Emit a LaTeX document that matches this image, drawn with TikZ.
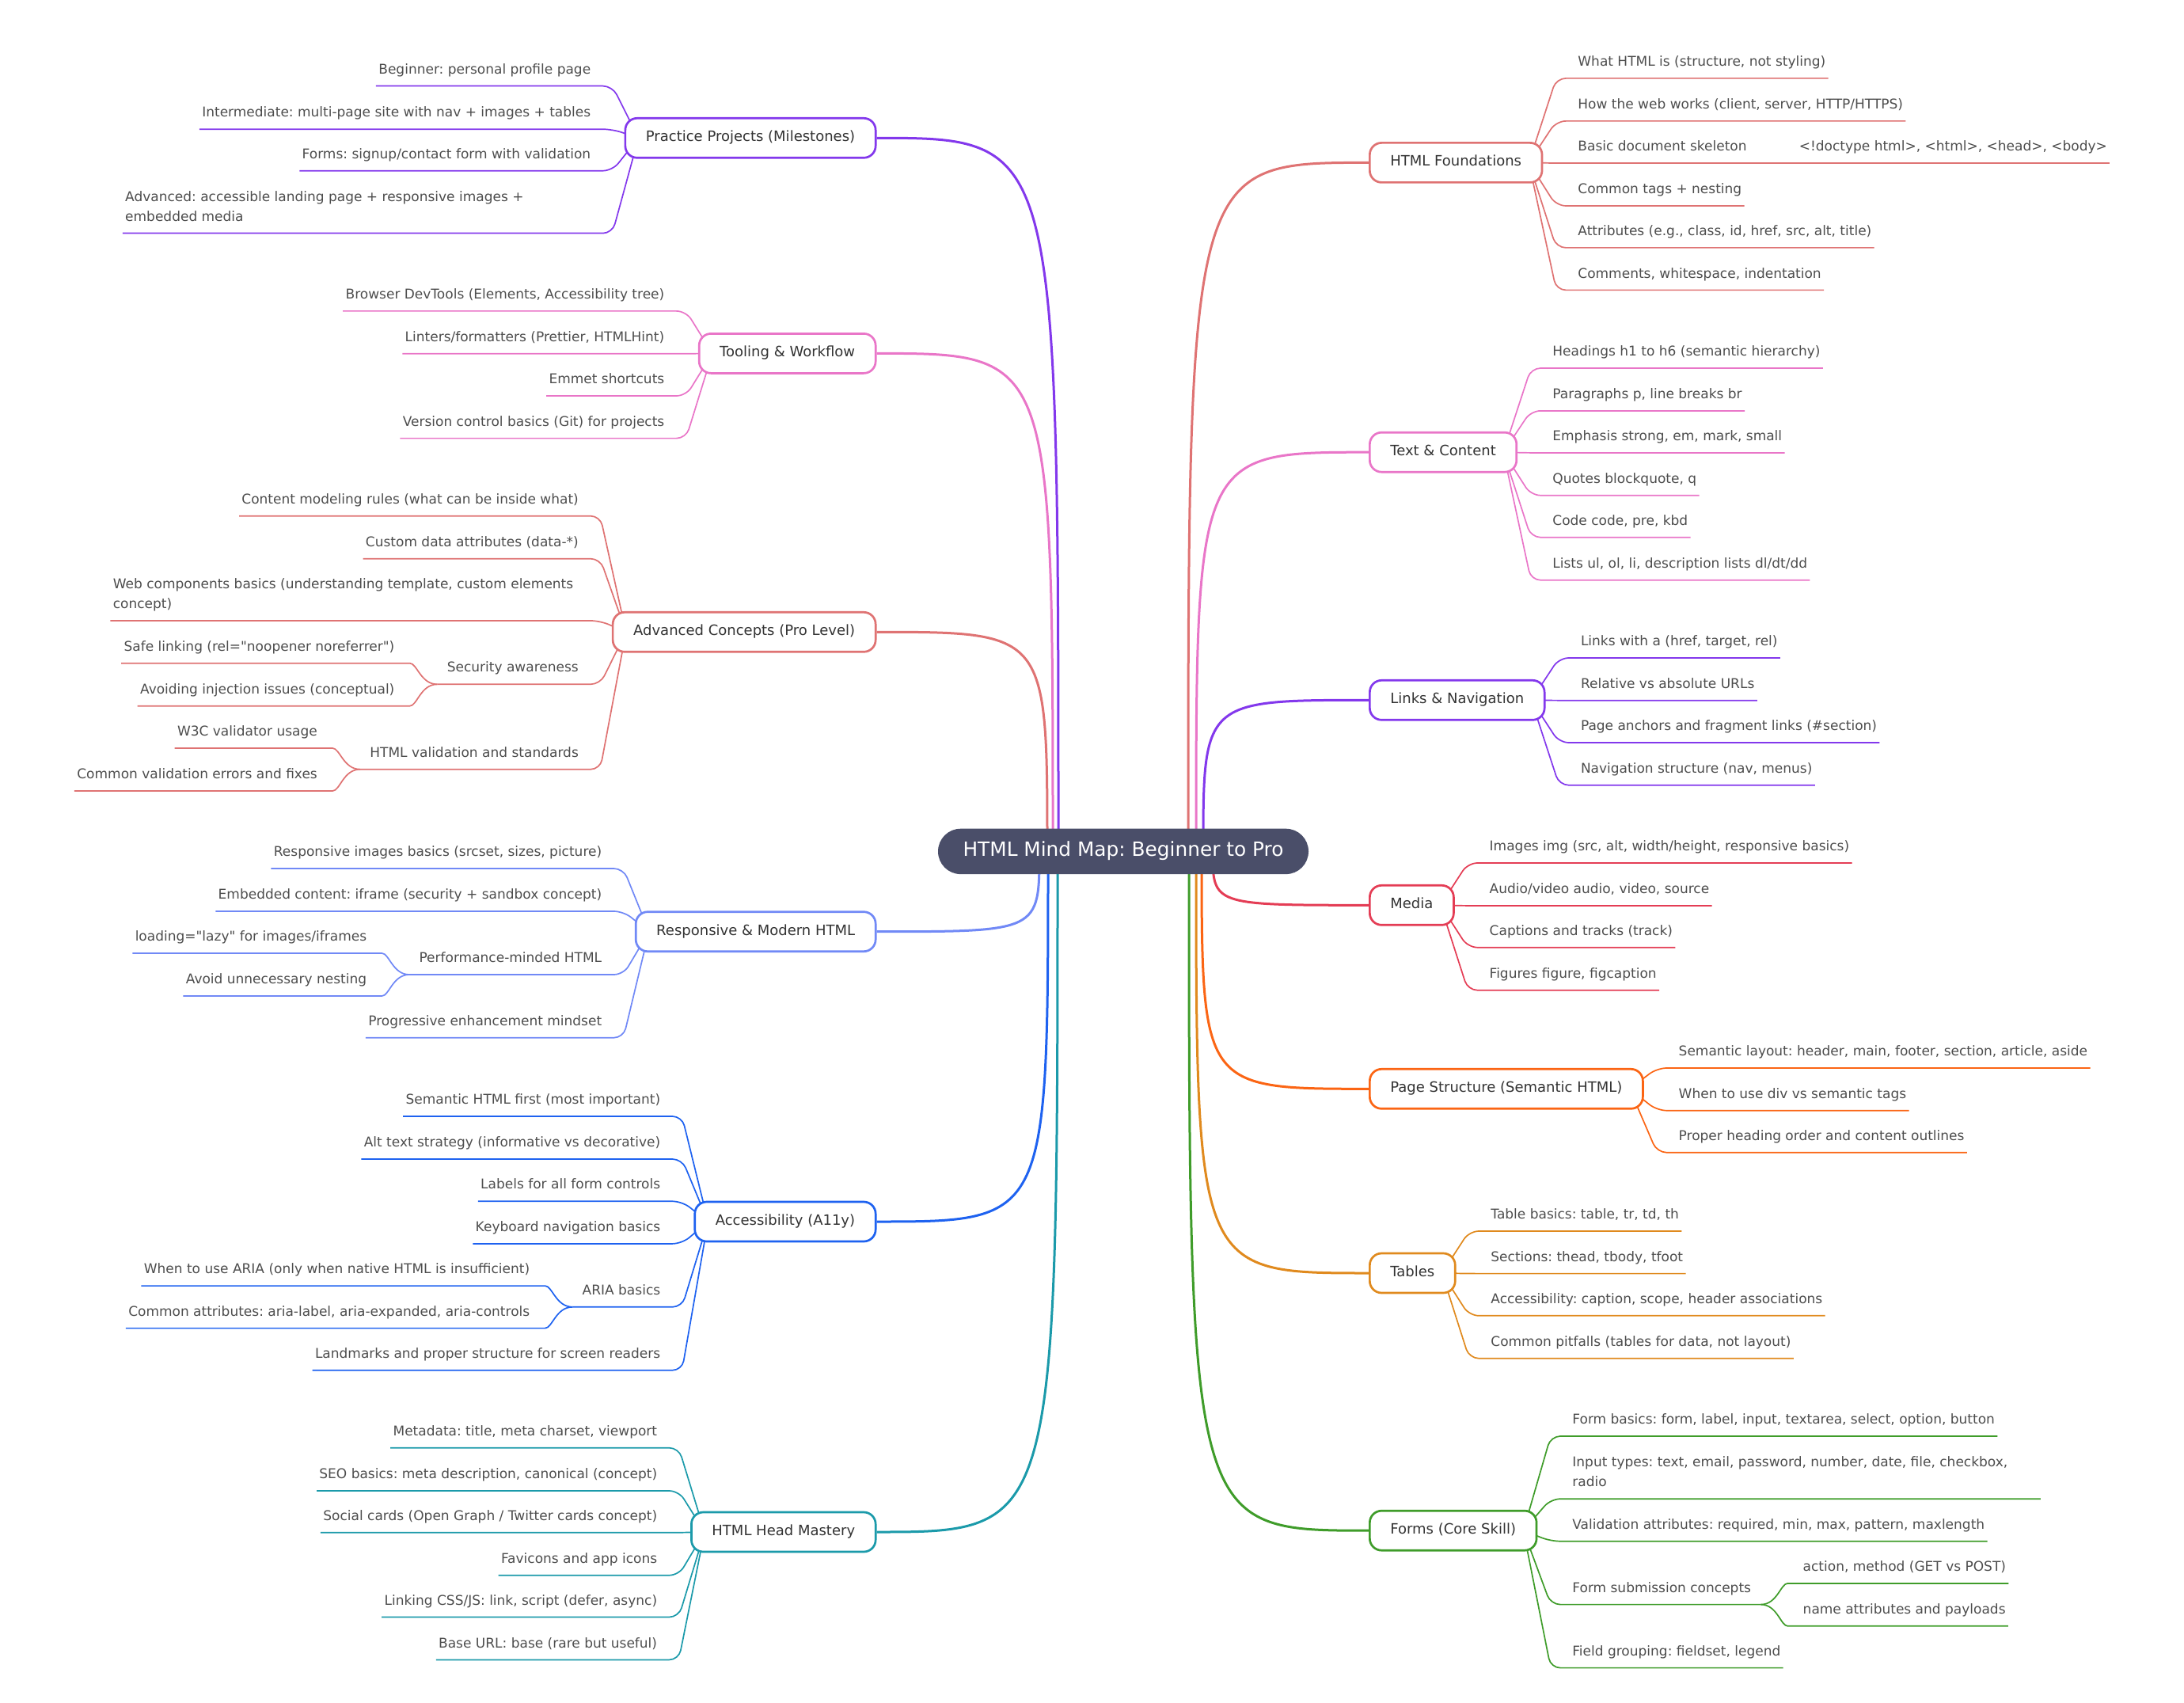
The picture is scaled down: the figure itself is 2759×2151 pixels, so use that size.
\documentclass[tikz,border=0pt]{standalone}
\usepackage{fontspec}
\setmainfont{DejaVu Sans}
\usetikzlibrary{calc}
\pgfdeclarelayer{bg}
\pgfsetlayers{bg,main}
\frenchspacing
\begin{document}
\begin{tikzpicture}[x=0.5pt,y=-0.5pt,
  root/.style={fill=rootfill,text=white,rounded corners=14.3pt,minimum width=234pt,minimum height=28.7pt,inner sep=0pt,text height=9.4pt,text depth=2.9pt,font=\fontsize{12.4}{15}\selectfont},
  br/.style={draw=#1,fill=white,line width=1.35pt,rounded corners=7.5pt,minimum height=25pt,inner xsep=13pt,inner ysep=0pt,text height=6.8pt,text depth=2.2pt,text=brtext,font=\fontsize{9}{11}\selectfont},
  leaf/.style={inner xsep=1.5pt,inner ysep=0pt,text depth=7.5pt,text=leaftext,font=\fontsize{8.5}{12.5}\selectfont},
  leafL/.style={leaf,anchor=south east},
  leafR/.style={leaf,anchor=south west},
  rl/.style={line width=1.5pt,#1},
  lk/.style={line width=0.85pt,rounded corners=6pt,#1}]
\definecolor{rootfill}{HTML}{4A4E69}
\definecolor{brtext}{HTML}{333333}
\definecolor{leaftext}{HTML}{4D4D4D}
\definecolor{cPP}{HTML}{8338EC}
\definecolor{cTW}{HTML}{E976C8}
\definecolor{cAC}{HTML}{DF7373}
\definecolor{cRM}{HTML}{7189F6}
\definecolor{cAY}{HTML}{1E62F0}
\definecolor{cHM}{HTML}{1B9AAA}
\definecolor{cMD}{HTML}{E43D55}
\definecolor{cPS}{HTML}{FB6514}
\definecolor{cTB}{HTML}{E08A1E}
\definecolor{cFM}{HTML}{3F9C2A}
\useasboundingbox (0,0) rectangle (2759,2151);
\node[root] (rt) at (1419,1075.4) {HTML Mind Map: Beginner to Pro};
\node[br=cPP,anchor=east] (pp) at (1107.5,174.3) {Practice Projects (Milestones)};
\node[br=cTW,anchor=east] (tw) at (1107.5,446.4) {Tooling \& Workflow};
\node[br=cAC,anchor=east] (ac) at (1107.5,798.3) {Advanced Concepts (Pro Level)};
\node[br=cRM,anchor=east] (rm) at (1107.5,1176.7) {Responsive \& Modern HTML};
\node[br=cAY,anchor=east] (ay) at (1107.5,1543) {Accessibility (A11y)};
\node[br=cHM,anchor=east] (hm) at (1107.5,1935) {HTML Head Mastery};
\node[br=cAC,anchor=west] (hf) at (1729,205.4) {HTML Foundations};
\node[br=cTW,anchor=west] (tc) at (1729,571.2) {Text \& Content};
\node[br=cPP,anchor=west] (ln) at (1729,884.3) {Links \& Navigation};
\node[br=cMD,anchor=west] (md) at (1729,1143.3) {Media};
\node[br=cPS,anchor=west] (ps) at (1729,1375.3) {Page Structure (Semantic HTML)};
\node[br=cTB,anchor=west] (tb) at (1729,1608) {Tables};
\node[br=cFM,anchor=west] (fm) at (1729,1933.2) {Forms (Core Skill)};
\coordinate (v-ac) at ([xshift=-48pt]rt.center);
\coordinate (v-tw) at ([xshift=-44.5pt]rt.center);
\coordinate (v-pp) at ([xshift=-41pt]rt.center);
\coordinate (v-rm) at ([xshift=-53pt]rt.center);
\coordinate (v-ay) at ([xshift=-47.5pt]rt.center);
\coordinate (v-hm) at ([xshift=-41.5pt]rt.center);
\coordinate (v-hf) at ([xshift=41pt]rt.center);
\coordinate (v-tc) at ([xshift=46pt]rt.center);
\coordinate (v-ln) at ([xshift=50.5pt]rt.center);
\coordinate (v-fm) at ([xshift=41.5pt]rt.center);
\coordinate (v-tb) at ([xshift=46pt]rt.center);
\coordinate (v-ps) at ([xshift=49.5pt]rt.center);
\coordinate (v-md) at ([xshift=56.5pt]rt.center);
\node[leafL] (pp1) at (749.6,108.6) {Beginner: personal profile page};
\node[leafL] (pp2) at (749.6,163.2) {Intermediate: multi-page site with nav + images + tables};
\node[leafL] (pp3) at (749.6,215.7) {Forms: signup/contact form with validation};
\node[leafL] (pp4) at (749.6,294.6) {\parbox[b]{294pt}{\raggedright Advanced: accessible landing page + responsive images +\\embedded media}};
\node[leafL] (tw1) at (842.7,392.9) {Browser DevTools (Elements, Accessibility tree)};
\node[leafL] (tw2) at (842.7,446.8) {Linters/formatters (Prettier, HTMLHint)};
\node[leafL] (tw3) at (842.7,500) {Emmet shortcuts};
\node[leafL] (tw4) at (842.7,553.6) {Version control basics (Git) for projects};
\node[leafL] (ac1) at (734.2,651.7) {Content modeling rules (what can be inside what)};
\node[leafL] (ac2) at (734.2,705.7) {Custom data attributes (data-*)};
\node[leafL] (ac3) at (734.2,784) {\parbox[b]{294pt}{\raggedright Web components basics (understanding template, custom elements\\concept)}};
\node[leafL] (ac4) at (734.2,864.3) {Security awareness};
\node[leafL] (ac4a) at (501.7,837.7) {Safe linking (rel=\textquotedbl noopener noreferrer\textquotedbl)};
\node[leafL] (ac4b) at (501.7,891.7) {Avoiding injection issues (conceptual)};
\node[leafL] (ac5) at (734.2,971.7) {HTML validation and standards};
\node[leafL] (ac5a) at (404.2,945) {W3C validator usage};
\node[leafL] (ac5b) at (404.2,999) {Common validation errors and fixes};
\node[leafL] (rm1) at (763.6,1097) {Responsive images basics (srcset, sizes, picture)};
\node[leafL] (rm2) at (763.6,1151) {Embedded content: iframe (security + sandbox concept)};
\node[leafL] (rm3) at (763.6,1231) {Performance-minded HTML};
\node[leafL] (rm3a) at (466.5,1204) {loading=\textquotedbl lazy\textquotedbl\ for images/iframes};
\node[leafL] (rm3b) at (466.5,1258) {Avoid unnecessary nesting};
\node[leafL] (rm4) at (763.6,1310.7) {Progressive enhancement mindset};
\node[leafL] (ay1) at (837.6,1410) {Semantic HTML first (most important)};
\node[leafL] (ay2) at (837.6,1464) {Alt text strategy (informative vs decorative)};
\node[leafL] (ay3) at (837.6,1517.3) {Labels for all form controls};
\node[leafL] (ay4) at (837.6,1570.9) {Keyboard navigation basics};
\node[leafL] (ay5) at (837.6,1650.8) {ARIA basics};
\node[leafL] (ay5a) at (672.6,1624.1) {When to use ARIA (only when native HTML is insufficient)};
\node[leafL] (ay5b) at (672.6,1677.6) {Common attributes: aria-label, aria-expanded, aria-controls};
\node[leafL] (ay6) at (837.6,1730.7) {Landmarks and proper structure for screen readers};
\node[leafL] (hm1) at (833.5,1828.7) {Metadata: title, meta charset, viewport};
\node[leafL] (hm2) at (833.5,1883) {SEO basics: meta description, canonical (concept)};
\node[leafL] (hm3) at (833.5,1935.8) {Social cards (Open Graph / Twitter cards concept)};
\node[leafL] (hm4) at (833.5,1989.7) {Favicons and app icons};
\node[leafL] (hm5) at (833.5,2042.5) {Linking CSS/JS: link, script (defer, async)};
\node[leafL] (hm6) at (833.5,2096.4) {Base URL: base (rare but useful)};
\node[leafR] (hf1) at (1990,98.9) {What HTML is (structure, not styling)};
\node[leafR] (hf2) at (1990,152.9) {How the web works (client, server, HTTP/HTTPS)};
\node[leafR] (hf3) at (1990,206.1) {Basic document skeleton};
\node[leafR] (hf3a) at (2269.4,206.1) {<!doctype html>, <html>, <head>, <body>};
\node[leafR] (hf4) at (1990,260) {Common tags + nesting};
\node[leafR] (hf5) at (1990,312.9) {Attributes (e.g., class, id, href, src, alt, title)};
\node[leafR] (hf6) at (1990,366.4) {Comments, whitespace, indentation};
\node[leafR] (tc1) at (1958,465) {Headings h1 to h6 (semantic hierarchy)};
\node[leafR] (tc2) at (1958,518.9) {Paragraphs p, line breaks br};
\node[leafR] (tc3) at (1958,572) {Emphasis strong, em, mark, small};
\node[leafR] (tc4) at (1958,625.7) {Quotes blockquote, q};
\node[leafR] (tc5) at (1958,678.7) {Code code, pre, kbd};
\node[leafR] (tc6) at (1958,732.7) {Lists ul, ol, li, description lists dl/dt/dd};
\node[leafR] (ln1) at (1993.6,831) {Links with a (href, target, rel)};
\node[leafR] (ln2) at (1993.6,884.7) {Relative vs absolute URLs};
\node[leafR] (ln3) at (1993.6,938) {Page anchors and fragment links (\#section)};
\node[leafR] (ln4) at (1993.6,991.7) {Navigation structure (nav, menus)};
\node[leafR] (md1) at (1878.3,1090) {Images img (src, alt, width/height, responsive basics)};
\node[leafR] (md2) at (1878.3,1144) {Audio/video audio, video, source};
\node[leafR] (md3) at (1878.3,1196.7) {Captions and tracks (track)};
\node[leafR] (md4) at (1878.3,1250.7) {Figures figure, figcaption};
\node[leafR] (ps1) at (2117.3,1349) {Semantic layout: header, main, footer, section, article, aside};
\node[leafR] (ps2) at (2117.3,1402.7) {When to use div vs semantic tags};
\node[leafR] (ps3) at (2117.3,1455.7) {Proper heading order and content outlines};
\node[leafR] (tb1) at (1880,1555) {Table basics: table, tr, td, th};
\node[leafR] (tb2) at (1880,1608.6) {Sections: thead, tbody, tfoot};
\node[leafR] (tb3) at (1880,1661.8) {Accessibility: caption, scope, header associations};
\node[leafR] (tb4) at (1880,1715.7) {Common pitfalls (tables for data, not layout)};
\node[leafR] (fm1) at (1983,1814) {Form basics: form, label, input, textarea, select, option, button};
\node[leafR] (fm2) at (1983,1893.2) {\parbox[b]{294pt}{\raggedright Input types: text, email, password, number, date, file, checkbox,\\radio}};
\node[leafR] (fm3) at (1983,1946.7) {Validation attributes: required, min, max, pattern, maxlength};
\node[leafR] (fm4) at (1983,2026.6) {Form submission concepts};
\node[leafR] (fm4a) at (2274.3,1999.9) {action, method (GET vs POST)};
\node[leafR] (fm4b) at (2274.3,2053.8) {name attributes and payloads};
\node[leafR] (fm5) at (1983,2106.6) {Field grouping: fieldset, legend};
\begin{pgfonlayer}{bg}
\draw[rl=cPP] (pp.east) .. controls (pp.east -| v-pp) .. (v-pp);
\draw[rl=cTW] (tw.east) .. controls (tw.east -| v-tw) .. (v-tw);
\draw[rl=cAC] (ac.east) .. controls (ac.east -| v-ac) .. (v-ac);
\draw[rl=cRM] (rm.east) .. controls (rm.east -| v-rm) .. (v-rm);
\draw[rl=cAY] (ay.east) .. controls (ay.east -| v-ay) .. (v-ay);
\draw[rl=cHM] (hm.east) .. controls (hm.east -| v-hm) .. (v-hm);
\draw[rl=cAC] (hf.west) .. controls (hf.west -| v-hf) .. (v-hf);
\draw[rl=cTW] (tc.west) .. controls (tc.west -| v-tc) .. (v-tc);
\draw[rl=cPP] (ln.west) .. controls (ln.west -| v-ln) .. (v-ln);
\draw[rl=cMD] (md.west) .. controls (md.west -| v-md) .. (v-md);
\draw[rl=cPS] (ps.west) .. controls (ps.west -| v-ps) .. (v-ps);
\draw[rl=cTB] (tb.west) .. controls (tb.west -| v-tb) .. (v-tb);
\draw[rl=cFM] (fm.west) .. controls (fm.west -| v-fm) .. (v-fm);
\draw[lk=cPP] ([xshift=9pt]pp.west) -- ([xshift=12pt]pp1.south east) -- (pp1.south west);
\draw[lk=cPP] ([xshift=9pt]pp.west) -- ([xshift=12pt]pp2.south east) -- (pp2.south west);
\draw[lk=cPP] ([xshift=9pt]pp.west) -- ([xshift=12pt]pp3.south east) -- (pp3.south west);
\draw[lk=cPP] ([xshift=9pt]pp.west) -- ([xshift=12pt]pp4.south east) -- (pp4.south west);
\draw[lk=cTW] ([xshift=9pt]tw.west) -- ([xshift=12pt]tw1.south east) -- (tw1.south west);
\draw[lk=cTW] ([xshift=9pt]tw.west) -- ([xshift=12pt]tw2.south east) -- (tw2.south west);
\draw[lk=cTW] ([xshift=9pt]tw.west) -- ([xshift=12pt]tw3.south east) -- (tw3.south west);
\draw[lk=cTW] ([xshift=9pt]tw.west) -- ([xshift=12pt]tw4.south east) -- (tw4.south west);
\draw[lk=cAC] ([xshift=9pt]ac.west) -- ([xshift=12pt]ac1.south east) -- (ac1.south west);
\draw[lk=cAC] ([xshift=9pt]ac.west) -- ([xshift=12pt]ac2.south east) -- (ac2.south west);
\draw[lk=cAC] ([xshift=9pt]ac.west) -- ([xshift=12pt]ac3.south east) -- (ac3.south west);
\draw[lk=cAC] ([xshift=9pt]ac.west) -- ([xshift=12pt]ac4.south east) -- ([xshift=-4.5pt]ac4.south west);
\draw[lk=cAC] ([xshift=-4.5pt]ac4.south west) to[out=180,in=0] ([xshift=2pt]ac4a.south east) -- (ac4a.south west);
\draw[lk=cAC] ([xshift=-4.5pt]ac4.south west) to[out=180,in=0] ([xshift=2pt]ac4b.south east) -- (ac4b.south west);
\draw[lk=cAC] ([xshift=9pt]ac.west) -- ([xshift=12pt]ac5.south east) -- ([xshift=-4.5pt]ac5.south west);
\draw[lk=cAC] ([xshift=-4.5pt]ac5.south west) to[out=180,in=0] ([xshift=2pt]ac5a.south east) -- (ac5a.south west);
\draw[lk=cAC] ([xshift=-4.5pt]ac5.south west) to[out=180,in=0] ([xshift=2pt]ac5b.south east) -- (ac5b.south west);
\draw[lk=cRM] ([xshift=9pt]rm.west) -- ([xshift=12pt]rm1.south east) -- (rm1.south west);
\draw[lk=cRM] ([xshift=9pt]rm.west) -- ([xshift=12pt]rm2.south east) -- (rm2.south west);
\draw[lk=cRM] ([xshift=9pt]rm.west) -- ([xshift=12pt]rm3.south east) -- ([xshift=-4.5pt]rm3.south west);
\draw[lk=cRM] ([xshift=-4.5pt]rm3.south west) to[out=180,in=0] ([xshift=2pt]rm3a.south east) -- (rm3a.south west);
\draw[lk=cRM] ([xshift=-4.5pt]rm3.south west) to[out=180,in=0] ([xshift=2pt]rm3b.south east) -- (rm3b.south west);
\draw[lk=cRM] ([xshift=9pt]rm.west) -- ([xshift=12pt]rm4.south east) -- (rm4.south west);
\draw[lk=cAY] ([xshift=9pt]ay.west) -- ([xshift=12pt]ay1.south east) -- (ay1.south west);
\draw[lk=cAY] ([xshift=9pt]ay.west) -- ([xshift=12pt]ay2.south east) -- (ay2.south west);
\draw[lk=cAY] ([xshift=9pt]ay.west) -- ([xshift=12pt]ay3.south east) -- (ay3.south west);
\draw[lk=cAY] ([xshift=9pt]ay.west) -- ([xshift=12pt]ay4.south east) -- (ay4.south west);
\draw[lk=cAY] ([xshift=9pt]ay.west) -- ([xshift=12pt]ay5.south east) -- ([xshift=-4.5pt]ay5.south west);
\draw[lk=cAY] ([xshift=-4.5pt]ay5.south west) to[out=180,in=0] ([xshift=2pt]ay5a.south east) -- (ay5a.south west);
\draw[lk=cAY] ([xshift=-4.5pt]ay5.south west) to[out=180,in=0] ([xshift=2pt]ay5b.south east) -- (ay5b.south west);
\draw[lk=cAY] ([xshift=9pt]ay.west) -- ([xshift=12pt]ay6.south east) -- (ay6.south west);
\draw[lk=cHM] ([xshift=9pt]hm.west) -- ([xshift=12pt]hm1.south east) -- (hm1.south west);
\draw[lk=cHM] ([xshift=9pt]hm.west) -- ([xshift=12pt]hm2.south east) -- (hm2.south west);
\draw[lk=cHM] ([xshift=9pt]hm.west) -- ([xshift=12pt]hm3.south east) -- (hm3.south west);
\draw[lk=cHM] ([xshift=9pt]hm.west) -- ([xshift=12pt]hm4.south east) -- (hm4.south west);
\draw[lk=cHM] ([xshift=9pt]hm.west) -- ([xshift=12pt]hm5.south east) -- (hm5.south west);
\draw[lk=cHM] ([xshift=9pt]hm.west) -- ([xshift=12pt]hm6.south east) -- (hm6.south west);
\draw[lk=cAC] ([xshift=-9pt]hf.east) -- ([xshift=-12pt]hf1.south west) -- (hf1.south east);
\draw[lk=cAC] ([xshift=-9pt]hf.east) -- ([xshift=-12pt]hf2.south west) -- (hf2.south east);
\draw[lk=cAC] ([xshift=-9pt]hf.east) -- ([xshift=-12pt]hf3.south west) -- ([xshift=4.5pt]hf3.south east);
\draw[lk=cAC] ([xshift=4.5pt]hf3.south east) to[out=0,in=180] ([xshift=-2pt]hf3a.south west) -- (hf3a.south east);
\draw[lk=cAC] ([xshift=-9pt]hf.east) -- ([xshift=-12pt]hf4.south west) -- (hf4.south east);
\draw[lk=cAC] ([xshift=-9pt]hf.east) -- ([xshift=-12pt]hf5.south west) -- (hf5.south east);
\draw[lk=cAC] ([xshift=-9pt]hf.east) -- ([xshift=-12pt]hf6.south west) -- (hf6.south east);
\draw[lk=cTW] ([xshift=-9pt]tc.east) -- ([xshift=-12pt]tc1.south west) -- (tc1.south east);
\draw[lk=cTW] ([xshift=-9pt]tc.east) -- ([xshift=-12pt]tc2.south west) -- (tc2.south east);
\draw[lk=cTW] ([xshift=-9pt]tc.east) -- ([xshift=-12pt]tc3.south west) -- (tc3.south east);
\draw[lk=cTW] ([xshift=-9pt]tc.east) -- ([xshift=-12pt]tc4.south west) -- (tc4.south east);
\draw[lk=cTW] ([xshift=-9pt]tc.east) -- ([xshift=-12pt]tc5.south west) -- (tc5.south east);
\draw[lk=cTW] ([xshift=-9pt]tc.east) -- ([xshift=-12pt]tc6.south west) -- (tc6.south east);
\draw[lk=cPP] ([xshift=-9pt]ln.east) -- ([xshift=-12pt]ln1.south west) -- (ln1.south east);
\draw[lk=cPP] ([xshift=-9pt]ln.east) -- ([xshift=-12pt]ln2.south west) -- (ln2.south east);
\draw[lk=cPP] ([xshift=-9pt]ln.east) -- ([xshift=-12pt]ln3.south west) -- (ln3.south east);
\draw[lk=cPP] ([xshift=-9pt]ln.east) -- ([xshift=-12pt]ln4.south west) -- (ln4.south east);
\draw[lk=cMD] ([xshift=-9pt]md.east) -- ([xshift=-12pt]md1.south west) -- (md1.south east);
\draw[lk=cMD] ([xshift=-9pt]md.east) -- ([xshift=-12pt]md2.south west) -- (md2.south east);
\draw[lk=cMD] ([xshift=-9pt]md.east) -- ([xshift=-12pt]md3.south west) -- (md3.south east);
\draw[lk=cMD] ([xshift=-9pt]md.east) -- ([xshift=-12pt]md4.south west) -- (md4.south east);
\draw[lk=cPS] ([xshift=-9pt]ps.east) -- ([xshift=-12pt]ps1.south west) -- (ps1.south east);
\draw[lk=cPS] ([xshift=-9pt]ps.east) -- ([xshift=-12pt]ps2.south west) -- (ps2.south east);
\draw[lk=cPS] ([xshift=-9pt]ps.east) -- ([xshift=-12pt]ps3.south west) -- (ps3.south east);
\draw[lk=cTB] ([xshift=-9pt]tb.east) -- ([xshift=-12pt]tb1.south west) -- (tb1.south east);
\draw[lk=cTB] ([xshift=-9pt]tb.east) -- ([xshift=-12pt]tb2.south west) -- (tb2.south east);
\draw[lk=cTB] ([xshift=-9pt]tb.east) -- ([xshift=-12pt]tb3.south west) -- (tb3.south east);
\draw[lk=cTB] ([xshift=-9pt]tb.east) -- ([xshift=-12pt]tb4.south west) -- (tb4.south east);
\draw[lk=cFM] ([xshift=-9pt]fm.east) -- ([xshift=-12pt]fm1.south west) -- (fm1.south east);
\draw[lk=cFM] ([xshift=-9pt]fm.east) -- ([xshift=-12pt]fm2.south west) -- (fm2.south east);
\draw[lk=cFM] ([xshift=-9pt]fm.east) -- ([xshift=-12pt]fm3.south west) -- (fm3.south east);
\draw[lk=cFM] ([xshift=-9pt]fm.east) -- ([xshift=-12pt]fm4.south west) -- ([xshift=4.5pt]fm4.south east);
\draw[lk=cFM] ([xshift=4.5pt]fm4.south east) to[out=0,in=180] ([xshift=-2pt]fm4a.south west) -- (fm4a.south east);
\draw[lk=cFM] ([xshift=4.5pt]fm4.south east) to[out=0,in=180] ([xshift=-2pt]fm4b.south west) -- (fm4b.south east);
\draw[lk=cFM] ([xshift=-9pt]fm.east) -- ([xshift=-12pt]fm5.south west) -- (fm5.south east);
\end{pgfonlayer}
\end{tikzpicture}
\end{document}
